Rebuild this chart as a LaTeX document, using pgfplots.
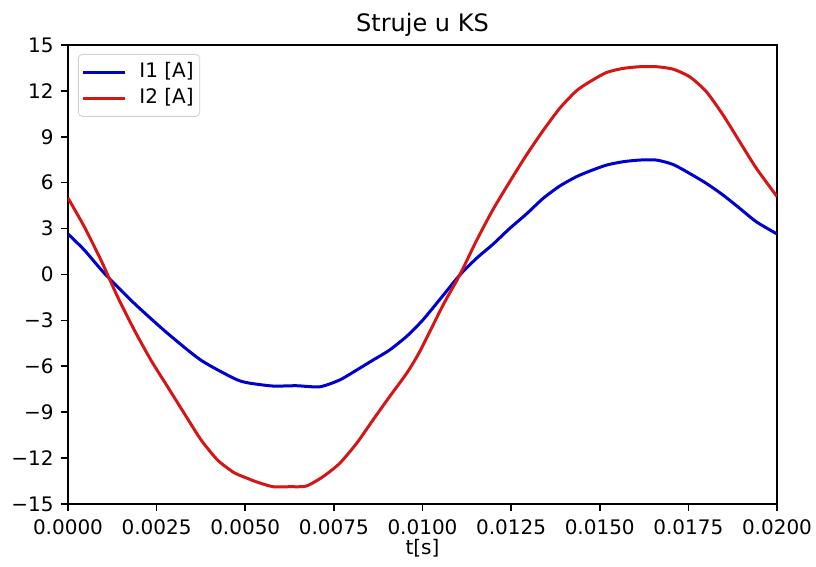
\documentclass[border=0pt]{standalone}
\usepackage{fontspec}
\setmainfont{DejaVu Sans}
\usepackage{pgfplots}
\pgfplotsset{compat=1.18}
\definecolor{mblue}{RGB}{0,0,205}
\definecolor{mred}{RGB}{212,22,22}
\begin{document}
\begin{tikzpicture}
\useasboundingbox (-34pt,-31.5pt) rectangle (374pt,252pt);
\begin{axis}[
  scale only axis, width=354.5pt, height=229.5pt,
  at={(0,0)}, anchor=south west,
  xmin=0, xmax=0.02, ymin=-15, ymax=15,
  axis line style={line width=0.8pt},
  tick style={line width=0.8pt, black},
  tick align=outside, major tick length=3.5pt,
  xtick pos=bottom, ytick pos=left,
  scaled x ticks=false, scaled y ticks=false,
  xtick={0,0.0025,0.005,0.0075,0.01,0.0125,0.015,0.0175,0.02},
  xticklabels={0.0000,0.0025,0.0050,0.0075,0.0100,0.0125,0.0150,0.0175,0.0200},
  ytick={-15,-12,-9,-6,-3,0,3,6,9,12,15},
  yticklabels={−15,−12,−9,−6,−3,0,3,6,9,12,15},
  ticklabel style={font=\fontsize{10}{12}\selectfont},
  xticklabel style={anchor=base, yshift=-12pt, inner sep=0pt},
  yticklabel style={anchor=east, inner sep=0pt, xshift=-3.5pt},
  title={Struje u KS},
  title style={font=\fontsize{12}{14}\selectfont, at={(0.5,1)}, anchor=base, yshift=0.5pt, inner sep=0pt},
  xlabel={t[s]},
  xlabel style={font=\fontsize{10}{12}\selectfont, at={(0.5,0)}, anchor=base, yshift=-25.5pt, inner sep=0pt},
  legend style={at={(0,1)}, anchor=north west, xshift=5pt, yshift=-4.5pt,
    draw=black!18, rounded corners=2pt, inner xsep=1.5pt, inner ysep=2.5pt,
    font=\fontsize{10}{12}\selectfont,
    nodes={inner sep=1.5pt, text height=7.5pt, text depth=2.5pt},
    row sep=0pt, column sep=5pt},
  legend cell align=left,
  legend image code/.code={\draw[#1, line width=1.5pt] (0pt,0pt) -- (21pt,0pt);},
  every axis plot/.append style={line width=1.5pt, line join=round, smooth, tension=0.4},
]
\addplot[mblue, mark=none] coordinates {
(0,2.65) (0.00046,1.6) (0.00103,0.07) (0.00187,-1.89) (0.00281,-3.85)
(0.00375,-5.6) (0.00469,-6.8) (0.00507,-7.08) (0.00578,-7.29) (0.00644,-7.27)
(0.0071,-7.34) (0.00766,-6.9) (0.00814,-6.25) (0.0086,-5.6) (0.00907,-4.94)
(0.00955,-4.05) (0.01,-3.0) (0.0105,-1.6) (0.01105,-0.04) (0.01152,1.05)
(0.01199,1.98) (0.01246,3.01) (0.01293,3.95) (0.0134,4.97) (0.01387,5.78)
(0.01434,6.39) (0.01472,6.76) (0.01519,7.15) (0.01566,7.37) (0.01613,7.48)
(0.0166,7.48) (0.01707,7.19) (0.01754,6.6) (0.01801,5.95) (0.01848,5.19)
(0.01895,4.32) (0.01942,3.44) (0.02,2.65)
};
\addlegendentry{I1 [A]}
\addplot[mred, mark=none] coordinates {
(0,5.0) (0.00046,3.12) (0.00093,0.94) (0.0014,-1.46) (0.00187,-3.63)
(0.00234,-5.6) (0.00281,-7.34) (0.00328,-9.08) (0.00375,-10.8) (0.00422,-12.13)
(0.00469,-12.96) (0.00507,-13.33) (0.00531,-13.55) (0.00578,-13.87) (0.00625,-13.87)
(0.00672,-13.83) (0.00719,-13.22) (0.00766,-12.35) (0.00814,-11.04) (0.0086,-9.52)
(0.00907,-7.99) (0.00955,-6.47) (0.00992,-5.05) (0.01058,-2.0) (0.01105,-0.04)
(0.01152,2.2) (0.01199,4.25) (0.01246,6.06) (0.01293,7.8) (0.0134,9.4)
(0.01387,10.86) (0.01434,12.0) (0.01472,12.6) (0.01519,13.2) (0.01566,13.47)
(0.01613,13.58) (0.0166,13.58) (0.01707,13.42) (0.01754,12.92) (0.01801,11.94)
(0.01848,10.42) (0.01895,8.67) (0.01942,6.93) (0.02,5.1)
};
\addlegendentry{I2 [A]}
\end{axis}
\end{tikzpicture}
\end{document}
